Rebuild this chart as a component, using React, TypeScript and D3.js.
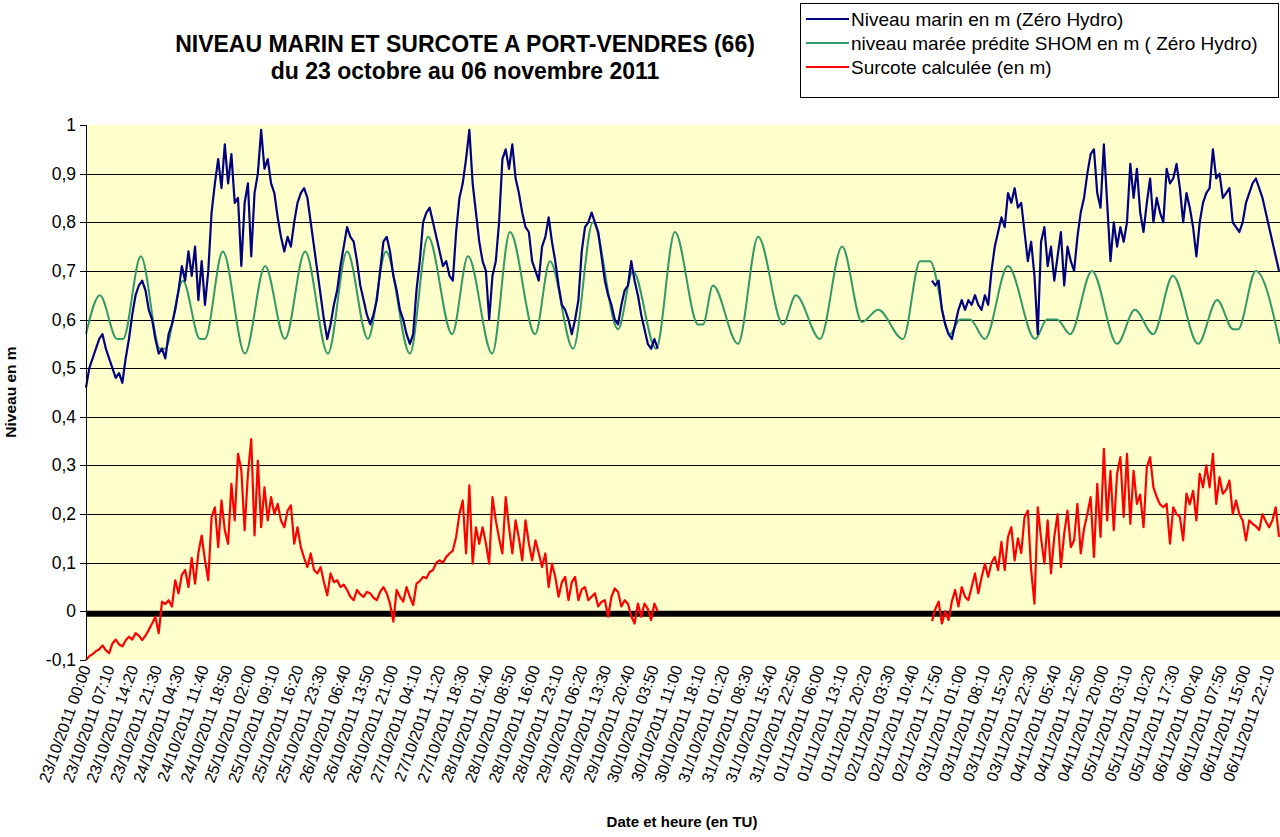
import React from "react";
import * as d3 from "d3";

const titleLines = ["NIVEAU MARIN ET SURCOTE A PORT-VENDRES (66)", "du 23 octobre au 06 novembre 2011"];
const legendLabels = ["Niveau marin en m (Zéro Hydro)", "niveau marée prédite SHOM en m ( Zéro Hydro)", "Surcote calculée (en m)"];
const seriesColors = ["#000080", "#339966", "#ff0000"];
const yTicks = [-0.1, 0, 0.1, 0.2, 0.3, 0.4, 0.5, 0.6, 0.7, 0.8, 0.9, 1];

const xTickLabels = [
  "23/10/2011 00:00", "23/10/2011 07:10", "23/10/2011 14:20", "23/10/2011 21:30", "24/10/2011 04:30",
  "24/10/2011 11:40", "24/10/2011 18:50", "25/10/2011 02:00", "25/10/2011 09:10", "25/10/2011 16:20",
  "25/10/2011 23:30", "26/10/2011 06:40", "26/10/2011 13:50", "26/10/2011 21:00", "27/10/2011 04:10",
  "27/10/2011 11:20", "27/10/2011 18:30", "28/10/2011 01:40", "28/10/2011 08:50", "28/10/2011 16:00",
  "28/10/2011 23:10", "29/10/2011 06:20", "29/10/2011 13:30", "29/10/2011 20:40", "30/10/2011 03:50",
  "30/10/2011 11:00", "30/10/2011 18:10", "31/10/2011 01:20", "31/10/2011 08:30", "31/10/2011 15:40",
  "31/10/2011 22:50", "01/11/2011 06:00", "01/11/2011 13:10", "01/11/2011 20:20", "02/11/2011 03:30",
  "02/11/2011 10:40", "02/11/2011 17:50", "03/11/2011 01:00", "03/11/2011 08:10", "03/11/2011 15:20",
  "03/11/2011 22:30", "04/11/2011 05:40", "04/11/2011 12:50", "04/11/2011 20:00", "05/11/2011 03:10",
  "05/11/2011 10:20", "05/11/2011 17:30", "06/11/2011 00:40", "06/11/2011 07:50", "06/11/2011 15:00",
  "06/11/2011 22:10",
];

// hours since 23/10/2011 00:00, hourly readings
const startA = 0;
const startB = 256;
const endHour = 361.3;

const niveauMarinA = [
  0.46, 0.50, 0.52, 0.54, 0.56, 0.57, 0.54, 0.52, 0.50, 0.48,
  0.49, 0.47, 0.52, 0.56, 0.61, 0.65, 0.67, 0.68, 0.66, 0.62,
  0.60, 0.56, 0.53, 0.54, 0.52, 0.57, 0.59, 0.62, 0.66, 0.71,
  0.68, 0.74, 0.69, 0.75, 0.64, 0.72, 0.63, 0.70, 0.82, 0.88,
  0.93, 0.87, 0.96, 0.88, 0.94, 0.84, 0.85, 0.71, 0.84, 0.88,
  0.73, 0.86, 0.90, 0.99, 0.91, 0.93, 0.88, 0.86, 0.81, 0.77,
  0.74, 0.77, 0.75, 0.80, 0.84, 0.86, 0.87, 0.85, 0.80, 0.75,
  0.70, 0.65, 0.60, 0.56, 0.59, 0.63, 0.66, 0.71, 0.75, 0.79,
  0.77, 0.76, 0.72, 0.67, 0.64, 0.61, 0.59, 0.61, 0.64, 0.70,
  0.76, 0.77, 0.74, 0.69, 0.66, 0.62, 0.60, 0.57, 0.55, 0.57,
  0.66, 0.72, 0.80, 0.82, 0.83, 0.80, 0.77, 0.74, 0.71, 0.72,
  0.69, 0.68, 0.78, 0.85, 0.88, 0.93, 0.99, 0.88, 0.82, 0.76,
  0.72, 0.70, 0.60, 0.69, 0.72, 0.80, 0.93, 0.95, 0.91, 0.96,
  0.89, 0.86, 0.82, 0.79, 0.78, 0.72, 0.70, 0.68, 0.75, 0.77,
  0.81, 0.76, 0.72, 0.67, 0.63, 0.62, 0.60, 0.57, 0.60, 0.64,
  0.74, 0.79, 0.80, 0.82, 0.80, 0.78, 0.73, 0.68, 0.65, 0.63,
  0.60, 0.59, 0.63, 0.66, 0.67, 0.72, 0.68, 0.65, 0.61, 0.58,
  0.55, 0.54, 0.56, 0.54,
];

const niveauMarinB = [
  0.68, 0.67, 0.68, 0.62, 0.59, 0.57, 0.56, 0.59, 0.62, 0.64,
  0.62, 0.64, 0.63, 0.65, 0.63, 0.62, 0.65, 0.63, 0.70, 0.75,
  0.78, 0.81, 0.79, 0.86, 0.84, 0.87, 0.83, 0.84, 0.78, 0.72,
  0.76, 0.69, 0.57, 0.76, 0.79, 0.71, 0.75, 0.68, 0.73, 0.78,
  0.67, 0.75, 0.72, 0.70, 0.77, 0.82, 0.85, 0.90, 0.94, 0.95,
  0.86, 0.83, 0.96, 0.84, 0.72, 0.80, 0.75, 0.79, 0.76, 0.80,
  0.92, 0.85, 0.91, 0.82, 0.78, 0.84, 0.89, 0.80, 0.85, 0.82,
  0.80, 0.91, 0.88, 0.89, 0.92, 0.87, 0.80, 0.86, 0.83, 0.79,
  0.73, 0.80, 0.84, 0.86, 0.87, 0.95, 0.89, 0.90, 0.85, 0.86,
  0.87, 0.80, 0.79, 0.78, 0.80, 0.84, 0.86, 0.88, 0.89, 0.87,
  0.85, 0.82, 0.79, 0.76, 0.73, 0.70,
];

const surcoteA = [
  -0.100, -0.092, -0.088, -0.082, -0.078, -0.070, -0.080, -0.086, -0.066, -0.058,
  -0.068, -0.072, -0.060, -0.052, -0.058, -0.045, -0.050, -0.059, -0.050, -0.038,
  -0.025, -0.011, -0.045, 0.020, 0.015, 0.023, 0.010, 0.064, 0.037, 0.075,
  0.085, 0.050, 0.110, 0.057, 0.120, 0.156, 0.105, 0.064, 0.194, 0.214,
  0.132, 0.228, 0.167, 0.139, 0.262, 0.187, 0.324, 0.290, 0.167, 0.283,
  0.354, 0.156, 0.310, 0.173, 0.255, 0.187, 0.235, 0.200, 0.221, 0.187,
  0.173, 0.207, 0.218, 0.139, 0.173, 0.132, 0.110, 0.091, 0.119, 0.085,
  0.078, 0.091, 0.060, 0.033, 0.078, 0.060, 0.064, 0.050, 0.055, 0.044,
  0.030, 0.023, 0.044, 0.035, 0.030, 0.040, 0.037, 0.028, 0.023, 0.040,
  0.050, 0.037, 0.016, -0.021, 0.044, 0.030, 0.020, 0.050, 0.030, 0.013,
  0.057, 0.062, 0.071, 0.068, 0.081, 0.085, 0.100, 0.105, 0.100, 0.112,
  0.119, 0.125, 0.153, 0.200, 0.228, 0.119, 0.259, 0.098, 0.173, 0.139,
  0.173, 0.140, 0.098, 0.235, 0.187, 0.150, 0.119, 0.235, 0.173, 0.119,
  0.187, 0.150, 0.105, 0.187, 0.140, 0.105, 0.146, 0.120, 0.091, 0.119,
  0.050, 0.098, 0.071, 0.030, 0.060, 0.071, 0.023, 0.060, 0.071, 0.023,
  0.045, 0.050, 0.023, 0.030, 0.037, 0.010, 0.020, 0.023, -0.011, 0.030,
  0.047, 0.040, 0.010, 0.023, 0.015, -0.010, -0.025, 0.016, -0.011, 0.016,
  0.005, -0.018, 0.016, 0.000,
];

const surcoteB = [
  -0.020, 0.005, 0.020, -0.025, 0.000, -0.018, 0.020, 0.044, 0.010, 0.050,
  0.030, 0.023, 0.050, 0.078, 0.037, 0.070, 0.098, 0.071, 0.100, 0.112,
  0.085, 0.143, 0.085, 0.153, 0.173, 0.105, 0.150, 0.120, 0.194, 0.207,
  0.085, 0.016, 0.214, 0.150, 0.098, 0.187, 0.078, 0.153, 0.200, 0.091,
  0.160, 0.207, 0.132, 0.146, 0.221, 0.119, 0.170, 0.200, 0.235, 0.112,
  0.262, 0.153, 0.334, 0.187, 0.289, 0.167, 0.283, 0.317, 0.194, 0.324,
  0.180, 0.289, 0.221, 0.240, 0.173, 0.296, 0.317, 0.255, 0.235, 0.220,
  0.214, 0.221, 0.139, 0.214, 0.200, 0.194, 0.146, 0.242, 0.220, 0.248,
  0.187, 0.283, 0.255, 0.300, 0.255, 0.324, 0.221, 0.276, 0.242, 0.250,
  0.269, 0.200, 0.228, 0.200, 0.187, 0.146, 0.187, 0.180, 0.175, 0.167,
  0.200, 0.185, 0.173, 0.187, 0.214, 0.153,
];

// predicted tide: [hour, value] at highs, lows and flat parts
const mareePredite: [number, number][] = [
  [0, 0.57], [4.2, 0.65], [9.4, 0.56], [11.2, 0.56], [16.6, 0.73], [22.4, 0.54], [23.9, 0.54],
  [29.3, 0.68], [34.5, 0.56], [36.0, 0.56], [41.4, 0.74], [48.1, 0.53], [54.2, 0.71], [60.2, 0.56],
  [66.3, 0.74], [73.2, 0.53], [79.0, 0.74], [85.3, 0.56], [90.8, 0.74], [98.0, 0.53], [103.5, 0.77],
  [110.8, 0.57], [115.6, 0.73], [122.9, 0.53], [128.3, 0.78], [135.9, 0.57], [140.4, 0.72],
  [147.4, 0.54], [153.4, 0.80], [161.0, 0.58], [165.5, 0.70], [172.5, 0.54], [178.2, 0.78],
  [185.2, 0.59], [186.7, 0.59], [189.7, 0.67], [197.3, 0.55], [203.4, 0.77], [210.9, 0.59],
  [214.8, 0.65], [222.1, 0.56], [228.8, 0.75], [234.8, 0.595], [239.7, 0.62], [247.2, 0.56],
  [252.4, 0.72], [255.4, 0.72], [261.4, 0.57], [264.5, 0.60], [267.5, 0.60], [272.0, 0.56],
  [279.0, 0.71], [287.2, 0.56], [290.8, 0.60], [293.8, 0.60], [297.8, 0.57], [304.4, 0.70],
  [312.0, 0.55], [317.4, 0.62], [322.9, 0.57], [328.9, 0.69], [336.5, 0.55], [342.3, 0.64],
  [347.1, 0.58], [348.6, 0.58], [354.0, 0.70], [361.3, 0.55],
];

const zeroLevel: [number, number][] = [[0, -0.005], [361.3, -0.005]];

const START = Date.UTC(2011, 9, 23, 0, 0);
function hoursOf(label: string) {
  const [date, time] = label.split(" ");
  const [d, m, y] = date.split("/").map(Number);
  const [hh, mm] = time.split(":").map(Number);
  return (Date.UTC(y, m - 1, d, hh, mm) - START) / 3600000;
}

const fmt = d3.formatLocale({ decimal: ",", thousands: " ", grouping: [3], currency: ["", ""], minus: "-" }).format("~g");
const font = "'Liberation Sans', Arial, sans-serif";

export default function App() {
  const left = 86, right = 1280, top = 125, bottom = 660;
  const x = d3.scaleLinear().domain([0, endHour]).range([left, right]);
  const y = d3.scaleLinear().domain([-0.1, 1]).range([bottom, top]);

  const line = d3.line<[number, number]>().x((d) => x(d[0])).y((d) => y(d[1]));
  const smooth = d3.line<[number, number]>().x((d) => x(d[0])).y((d) => y(d[1])).curve(d3.curveMonotoneX);
  const withHours = (vals: number[], start: number) => vals.map((v, i) => [start + i, v] as [number, number]);

  const legendRows = [19, 43, 67];

  return (
    <svg width={1280} height={837} style={{ position: "absolute", left: 0, top: 0, background: "#fff" }} fontFamily={font}>
      {titleLines.map((t, i) => (
        <text key={t} x={465} y={52 + i * 27} textAnchor="middle" fontWeight="bold" fontSize={23}>{t}</text>
      ))}

      <rect x={800.5} y={3.5} width={478} height={94} fill="#fff" stroke="#000" />
      {legendLabels.map((t, i) => (
        <g key={t}>
          <line x1={806} x2={849} y1={legendRows[i]} y2={legendRows[i]} stroke={seriesColors[i]} strokeWidth={2} />
          <text x={851} y={legendRows[i]} dominantBaseline="central" fontSize={19}>{t}</text>
        </g>
      ))}

      <rect x={left} y={top} width={right - left} height={bottom - top} fill="#ffffcc" />
      {yTicks.filter((t) => t > -0.1 && t < 1).map((t) => (
        <line key={t} x1={left} x2={right} y1={Math.round(y(t)) + 0.5} y2={Math.round(y(t)) + 0.5} stroke="#000" />
      ))}

      <path d={line(zeroLevel) || ""} fill="none" stroke="#000" strokeWidth={6} />
      <path d={smooth(mareePredite) || ""} fill="none" stroke={seriesColors[1]} strokeWidth={2} />
      <path d={line(withHours(niveauMarinA, startA)) || ""} fill="none" stroke={seriesColors[0]} strokeWidth={2.2} strokeLinejoin="round" />
      <path d={line(withHours(niveauMarinB, startB)) || ""} fill="none" stroke={seriesColors[0]} strokeWidth={2.2} strokeLinejoin="round" />
      <path d={line(withHours(surcoteA, startA)) || ""} fill="none" stroke={seriesColors[2]} strokeWidth={2.2} strokeLinejoin="round" />
      <path d={line(withHours(surcoteB, startB)) || ""} fill="none" stroke={seriesColors[2]} strokeWidth={2.2} strokeLinejoin="round" />

      <line x1={left + 0.5} x2={left + 0.5} y1={top} y2={bottom} stroke="#000" />
      {yTicks.map((t) => (
        <g key={t}>
          <line x1={80} x2={left} y1={Math.round(y(t)) + 0.5} y2={Math.round(y(t)) + 0.5} stroke="#000" />
          <text x={76} y={y(t)} textAnchor="end" dominantBaseline="central" fontSize={17.5}>{fmt(t)}</text>
        </g>
      ))}

      {xTickLabels.map((t) => {
        const px = x(hoursOf(t));
        return (
          <text key={t} transform={`translate(${px},666) rotate(-70)`} textAnchor="end" dominantBaseline="central" fontSize={16}>{t}</text>
        );
      })}

      <text transform="translate(16,392) rotate(-90)" textAnchor="middle" fontWeight="bold" fontSize={15.5}>Niveau en m</text>
      <text x={682} y={827} textAnchor="middle" fontWeight="bold" fontSize={15}>Date et heure (en TU)</text>
    </svg>
  );
}
